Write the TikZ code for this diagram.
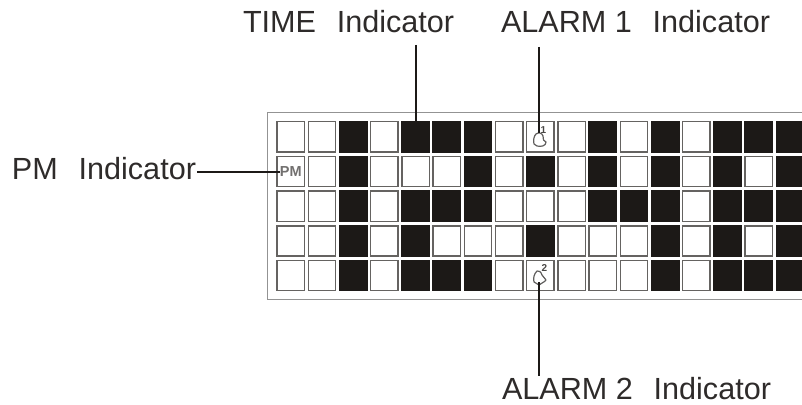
\documentclass[tikz,border=0pt]{standalone}
\usepackage{fontspec}
\setmainfont{Liberation Sans}
\definecolor{ink}{HTML}{1C1917}
\tikzset{
  cellbox/.style={draw=ink!68,line width=1.4pt,fill=white,minimum width=27.4pt,minimum height=30.2pt,inner sep=0pt,outer sep=0pt,anchor=north west},
  oncell/.style={cellbox,draw=ink,fill=ink},
  lab/.style={font=\fontsize{30.6}{30.6}\selectfont,text=ink!92,inner sep=0pt,outer sep=0pt},
  lead/.style={draw=ink,line width=2pt},
  frame/.style={draw=gray!85,line width=1.3pt},
  bell/.style={draw=ink!70,line width=1.2pt,fill=white,line join=round},
  tiny/.style={font=\bfseries\fontsize{10}{10}\selectfont,text=ink!80,inner sep=0pt}
}
\def\cellrow#1#2{%
  \foreach \c/\b in {#2}{
    \pgfmathsetmacro{\px}{277+31.2*\c}
    \pgfmathsetmacro{\py}{121.7+34.7*#1}
    \ifnum\b=1
      \node[oncell] (c#1-\c) at (\px,\py) {};
    \else
      \node[cellbox] (c#1-\c) at (\px,\py) {};
    \fi
  }}
\begin{document}
\begin{tikzpicture}[x=1pt,y=-1pt]
\useasboundingbox (0,0) rectangle (802,404);
\begin{scope}
\clip (0,0) rectangle (802,404);
\draw[frame] (802,112.7) -- (267.5,112.7) -- (267.5,299.3) -- (802,299.3);
\cellrow{0}{0/0,1/0,2/1,3/0,4/1,5/1,6/1,7/0,8/0,9/0,10/1,11/0,12/1,13/0,14/1,15/1,16/1}
\cellrow{1}{0/0,1/0,2/1,3/0,4/0,5/0,6/1,7/0,8/1,9/0,10/1,11/0,12/1,13/0,14/1,15/0,16/1}
\cellrow{2}{0/0,1/0,2/1,3/0,4/1,5/1,6/1,7/0,8/0,9/0,10/1,11/1,12/1,13/0,14/1,15/1,16/1}
\cellrow{3}{0/0,1/0,2/1,3/0,4/1,5/0,6/0,7/0,8/1,9/0,10/0,11/0,12/1,13/0,14/1,15/0,16/1}
\cellrow{4}{0/0,1/0,2/1,3/0,4/1,5/1,6/1,7/0,8/0,9/0,10/0,11/0,12/1,13/0,14/1,15/1,16/1}
\end{scope}
% labels
\node[lab,anchor=base west] (time) at (243,32.3) {TIME\hspace{.4em} Indicator};
\node[lab,anchor=base west] (al1) at (501,32.3) {ALARM 1\hspace{.4em} Indicator};
\node[lab,anchor=base west] (pm) at (12,179.3) {PM\hspace{.4em} Indicator};
\node[lab,anchor=base west] (al2) at (502,399) {ALARM 2\hspace{.4em} Indicator};
% PM text
\node[font=\bfseries\fontsize{14.5}{14.5}\selectfont,text=ink!62,inner sep=0pt] (pmt) at (c1-0.center) {PM};
% bells
\draw[bell] (534,144) .. controls (533,140) and (534,136) .. (536,134) .. controls (539,132) and (542,133) .. (543,136) -- (543.5,140) -- (546,142) .. controls (546,146) and (541,147) .. (537,146) -- cycle;
\node[tiny] (b1) at ([xshift=3pt,yshift=7pt]c0-8.center) {1};
\draw[bell] (534,282) .. controls (533,278) and (534,274) .. (537,271) .. controls (539,270) and (541,272) .. (542,275) -- (546,280) .. controls (545,282) and (541,283) .. (539,285) -- cycle;
\node[tiny] (b2) at ([xshift=4pt,yshift=7.5pt]c4-8.center) {2};
% leaders
\coordinate (tstart) at (c0-4.north |- 0,45);
\draw[lead] (tstart) -- (c0-4.north);
\coordinate (a1end) at ([xshift=-1.2pt,yshift=3.5pt]c0-8.center);
\coordinate (a1top) at (a1end |- 0,47);
\draw[lead] (a1top) -- (a1end);
\coordinate (a2start) at ([xshift=-1pt]c4-8.center |- 0,375.5);
\coordinate (a2bell) at ([xshift=-1pt,yshift=8.5pt]c4-8.south);
\draw[lead] (a2start) -- (a2bell);
\coordinate (pmstart) at (197,171.7);
\draw[lead] (pmstart) -- (pmstart -| pmt.west);
\end{tikzpicture}
\end{document}
